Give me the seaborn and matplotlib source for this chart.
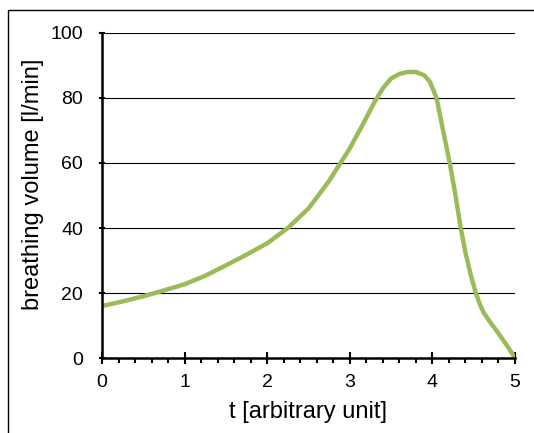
import matplotlib

matplotlib.use("Agg")
import matplotlib.pyplot as plt
import pandas as pd
import seaborn as sns
from matplotlib.patches import Rectangle
from matplotlib.ticker import MultipleLocator

sns.set_theme(style="white")
plt.rcParams["font.family"] = ["Liberation Sans", "DejaVu Sans"]
plt.rcParams["text.color"] = "black"
plt.rcParams["axes.labelcolor"] = "black"
plt.rcParams["xtick.color"] = "black"
plt.rcParams["ytick.color"] = "black"

# values
t_values = [0, 0.25, 0.5, 0.75, 1.0, 1.25, 1.5, 1.75, 2.0, 2.25, 2.5, 2.75,
            3.0, 3.15, 3.3, 3.4, 3.5, 3.6, 3.7, 3.8, 3.9, 3.97, 4.05, 4.13,
            4.21, 4.28, 4.34, 4.4, 4.46, 4.52, 4.57, 4.62, 4.7, 4.78,
            4.86, 4.93, 5.0]
volume = [16.0, 17.4, 19.0, 20.8, 22.7, 25.3, 28.5, 31.8, 35.3, 40.0, 46.0, 54.5,
          64.5, 71.5, 78.8, 83.0, 86.0, 87.4, 88.0, 88.0, 87.0, 85.0, 80.0, 70.0,
          60.0, 50.0, 40.5, 32.5, 26.0, 20.5, 16.8, 14.0, 11.0, 8.3,
          5.4, 2.8, 0.0]

x_ticks = [0, 1, 2, 3, 4, 5]
y_ticks = [0, 20, 40, 60, 80, 100]

data = pd.DataFrame({"t": t_values, "volume": volume})

fig = plt.figure(figsize=(5.34, 4.33), dpi=100)
ax = fig.add_axes([0.191, 0.1732, 0.7734, 0.7506])

sns.lineplot(data=data, x="t", y="volume", ax=ax, color="#9BBB59",
             linewidth=3.2, zorder=3)

ax.set_xlim(0, 5)
ax.set_ylim(0, 100)
ax.set_xticks(x_ticks)
ax.set_yticks(y_ticks)
ax.xaxis.set_minor_locator(MultipleLocator(0.2))

ax.grid(False)
for y in y_ticks[1:]:
    ax.axhline(y, color="black", linewidth=0.8, zorder=1)

for side in ["top", "right"]:
    ax.spines[side].set_visible(False)
for side in ["left", "bottom"]:
    ax.spines[side].set_color("black")
    ax.spines[side].set_linewidth(1.8)
    ax.spines[side].set_zorder(4)

ax.tick_params(axis="x", which="major", direction="inout", length=8.5, width=1.5,
               color="black", pad=7.5, labelsize=14, bottom=True)
ax.tick_params(axis="x", which="minor", direction="out", length=3.5, width=1.5,
               color="black", bottom=True)
ax.tick_params(axis="y", which="major", direction="inout", length=5, width=1.5,
               color="black", pad=11, labelsize=14, left=True)

ax.set_xlabel("t [arbitrary unit]", fontsize=17, labelpad=7)
ax.set_ylabel("breathing volume [l/min]", fontsize=17)
ax.yaxis.set_label_coords(-0.140, 0.535)

fig.patches.append(Rectangle((8 / 534, -0.2), 1.0, 1.2 - 10 / 433,
                             transform=fig.transFigure, fill=False,
                             edgecolor="black", linewidth=1.0))

fig.savefig("out.png", dpi=100)
